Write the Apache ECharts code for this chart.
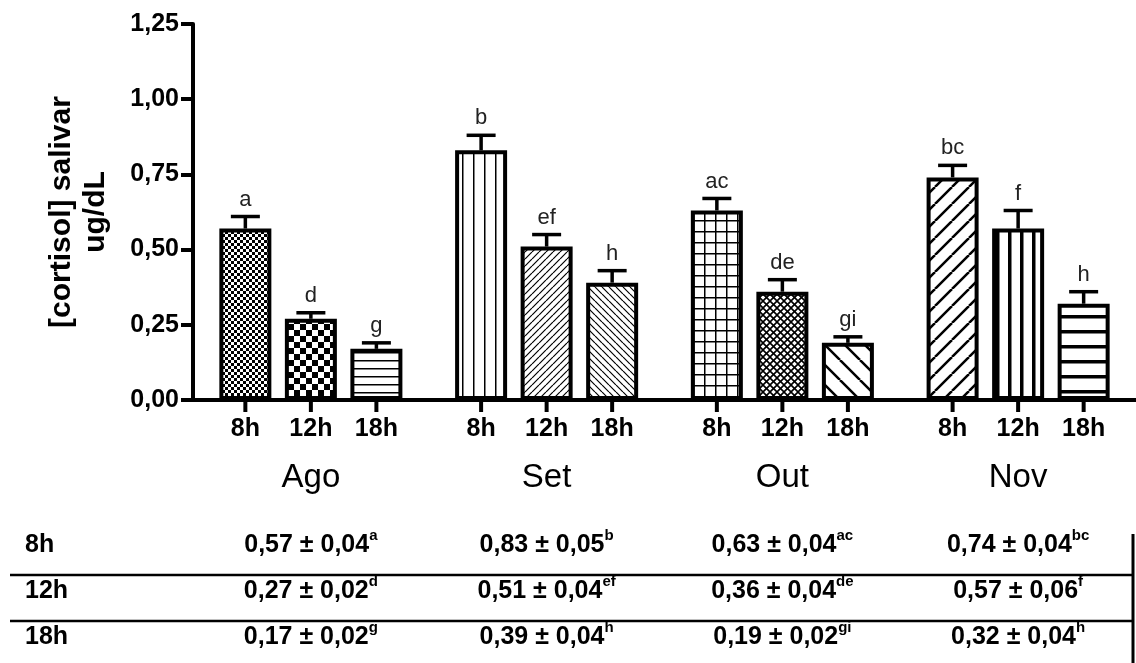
<!DOCTYPE html>
<html>
<head>
<meta charset="utf-8">
<script src="https://cdn.jsdelivr.net/npm/echarts@6/dist/echarts.min.js"></script>
<style>
html,body{margin:0;padding:0;background:#fff;}
#c{width:1136px;height:663px;}
</style>
</head>
<body>
<div id="c"></div>
<script>
// ---- data ----
const months = ['Ago', 'Set', 'Out', 'Nov'];
const hours = ['8h', '12h', '18h'];
const mean8h  = [0.57, 0.83, 0.63, 0.74];
const sem8h   = [0.04, 0.05, 0.04, 0.04];
const let8h   = ['a', 'b', 'ac', 'bc'];
const mean12h = [0.27, 0.51, 0.36, 0.57];
const sem12h  = [0.02, 0.04, 0.04, 0.06];
const let12h  = ['d', 'ef', 'de', 'f'];
const mean18h = [0.17, 0.39, 0.19, 0.32];
const sem18h  = [0.02, 0.04, 0.02, 0.04];
const let18h  = ['g', 'h', 'gi', 'h'];
const yTicks = [0, 0.25, 0.5, 0.75, 1.0, 1.25];
const yTitle = ['[cortisol] salivar', 'ug/dL'];

const means = [mean8h, mean12h, mean18h];
const sems = [sem8h, sem12h, sem18h];
const lets = [let8h, let12h, let18h];

const FONT = '"Liberation Sans", Arial, Helvetica, sans-serif';
function fmt(v) { return v.toFixed(2).replace('.', ','); }

// ---- hatch patterns ----
function tile(w, h, fn) {
  const c = document.createElement('canvas');
  c.width = w; c.height = h;
  const g = c.getContext('2d');
  g.fillStyle = '#fff'; g.fillRect(0, 0, w, h);
  g.fillStyle = '#000'; g.strokeStyle = '#000';
  fn(g, w, h);
  return { image: c, repeat: 'repeat' };
}
function diag(g, s, dir, lw) {
  g.lineWidth = lw;
  g.beginPath();
  for (let k = -1; k <= 1; k++) {
    if (dir > 0) { g.moveTo(k * s, s); g.lineTo(k * s + s, 0); }
    else { g.moveTo(k * s, 0); g.lineTo(k * s + s, s); }
  }
  g.stroke();
}
const P = {
  fineChecker: tile(6, 6, g => { g.fillRect(0, 0, 3, 3); g.fillRect(3, 3, 3, 3); }),
  bigChecker: tile(12, 12, g => { g.fillRect(0, 0, 6, 6); g.fillRect(6, 6, 6, 6); }),
  hThin: tile(8, 8, g => g.fillRect(0, 0, 8, 1.5)),
  vThin: tile(11, 11, g => g.fillRect(0, 0, 1.5, 11)),
  grid: tile(11, 11, g => { g.fillRect(0, 0, 11, 1.5); g.fillRect(0, 0, 1.5, 11); }),
  diagFwdDense: tile(7, 7, (g, w) => diag(g, w, 1, 1.2)),
  diagBackDense: tile(7, 7, (g, w) => diag(g, w, -1, 1.2)),
  crossHatch: tile(7, 7, (g, w) => { diag(g, w, 1, 1.6); diag(g, w, -1, 1.6); }),
  diagBackSparse: tile(20, 20, (g, w) => diag(g, w, -1, 2.5)),
  diagFwdSparse: tile(17, 17, (g, w) => diag(g, w, 1, 2.5)),
  vThick: tile(12, 12, g => g.fillRect(0, 0, 3.5, 12)),
  hThick: tile(15, 15, g => g.fillRect(0, 0, 15, 3.5))
};
const patterns = [
  [P.fineChecker, P.vThin, P.grid, P.diagFwdSparse],
  [P.bigChecker, P.diagFwdDense, P.crossHatch, P.vThick],
  [P.hThin, P.diagBackDense, P.diagBackSparse, P.hThick]
];

// ---- layout constants (style only) ----
const BAR_W = 52;
const BAR_GAP = 0.26;
const STEP = BAR_W * (1 + BAR_GAP);
const rowY = [545, 591, 637];

const errItems = [];
const errLetters = [];
hours.forEach((h, si) => {
  months.forEach((m, mi) => {
    errItems.push([mi, means[si][mi], sems[si][mi], si]);
    errLetters.push(lets[si][mi]);
  });
});

const chart = echarts.init(document.getElementById('c'), null, { renderer: 'canvas' });

const barSeries = hours.map((h, si) => ({
  type: 'bar',
  name: h,
  barWidth: BAR_W,
  barGap: (BAR_GAP * 100) + '%',
  silent: true,
  z: 2,
  data: means[si].map((v, mi) => ({ value: v, itemStyle: { color: patterns[si][mi] } })),
  itemStyle: { borderColor: '#000', borderWidth: 4 },
  label: {
    show: true, position: 'bottom', distance: 17, formatter: '{a}',
    fontFamily: FONT, fontSize: 25, fontWeight: 'bold', color: '#000'
  }
}));

const customSeries = {
  type: 'custom',
  coordinateSystem: 'cartesian2d',
  clip: false,
  silent: true,
  z: 5,
  data: errItems,
  encode: { x: 0, y: 1 },
  renderItem: function (params, api) {
    const mi = api.value(0), v = api.value(1), e = api.value(2), si = api.value(3);
    const letter = errLetters[params.dataIndex];
    const off = (si - 1) * STEP;
    const base = api.coord([mi, 0]);
    const top = api.coord([mi, v]);
    const hi = api.coord([mi, v + e]);
    const x = top[0] + off;
    const ls = { stroke: '#000', lineWidth: 3.5 };
    return {
      type: 'group',
      children: [
        { type: 'line', shape: { x1: x, y1: top[1], x2: x, y2: hi[1] }, style: ls },
        { type: 'line', shape: { x1: x - 14.5, y1: hi[1], x2: x + 14.5, y2: hi[1] }, style: ls },
        { type: 'line', shape: { x1: x, y1: base[1], x2: x, y2: base[1] + 12 }, style: { stroke: '#000', lineWidth: 4 } },
        { type: 'text', style: {
            x: x, y: hi[1] - 6, text: letter, align: 'center', verticalAlign: 'bottom',
            fontFamily: FONT, fontSize: 22, fill: '#222'
        } },
        { type: 'text', style: {
            x: base[0], y: rowY[si],
            text: '{v|' + fmt(v) + ' \u00b1 ' + fmt(e) + '}{s|' + letter + '}',
            align: 'center', verticalAlign: 'middle',
            rich: {
              v: { fontFamily: FONT, fontSize: 25, fontWeight: 'bold', fill: '#000', lineHeight: 34 },
              s: { fontFamily: FONT, fontSize: 15, fontWeight: 'bold', fill: '#000', lineHeight: 4, verticalAlign: 'top' }
            }
        } }
      ]
    };
  }
};

const graphics = [];
hours.forEach((h, si) => {
  graphics.push({
    type: 'text', left: 25, top: rowY[si] - 14, silent: true,
    style: { text: h, fontFamily: FONT, fontSize: 25, fontWeight: 'bold', fill: '#000', lineHeight: 28 }
  });
});
graphics.push({ type: 'line', silent: true, shape: { x1: 10, y1: 575, x2: 1133, y2: 575 }, style: { stroke: '#000', lineWidth: 2.5 } });
graphics.push({ type: 'line', silent: true, shape: { x1: 10, y1: 621, x2: 1133, y2: 621 }, style: { stroke: '#000', lineWidth: 2.5 } });
graphics.push({ type: 'line', silent: true, shape: { x1: 1133, y1: 534, x2: 1133, y2: 663 }, style: { stroke: '#000', lineWidth: 3 } });

chart.setOption({
  animation: false,
  backgroundColor: '#fff',
  grid: { left: 193, top: 24, width: 948, height: 376, containLabel: false },
  xAxis: {
    type: 'category',
    data: months,
    axisLine: { show: true, lineStyle: { color: '#000', width: 4 } },
    axisTick: { show: false },
    splitLine: { show: false },
    axisLabel: { fontFamily: FONT, fontSize: 33, color: '#000', margin: 61, interval: 0 }
  },
  yAxis: {
    type: 'value',
    min: yTicks[0], max: yTicks[yTicks.length - 1], interval: yTicks[1] - yTicks[0],
    axisLine: { show: true, lineStyle: { color: '#000', width: 4 } },
    axisTick: { show: true, length: 12, lineStyle: { color: '#000', width: 4 } },
    splitLine: { show: false },
    axisLabel: { formatter: v => fmt(v), fontFamily: FONT, fontSize: 25, fontWeight: 'bold', color: '#000', margin: 14 },
    name: yTitle.join('\n'),
    nameLocation: 'middle',
    nameGap: 80,
    nameRotate: 90,
    nameTextStyle: { fontFamily: FONT, fontSize: 30, fontWeight: 'bold', color: '#000', lineHeight: 34 }
  },
  series: barSeries.concat([customSeries]),
  graphic: graphics
});
</script>
</body>
</html>
